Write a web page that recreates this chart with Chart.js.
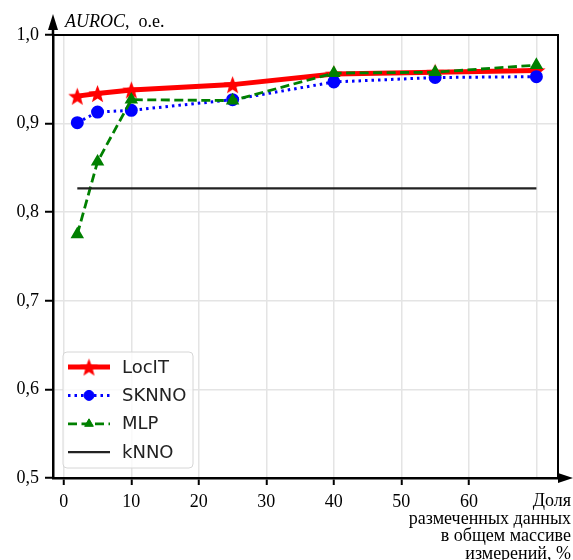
<!DOCTYPE html>
<html>
<head>
<meta charset="utf-8">
<script src="https://cdn.jsdelivr.net/npm/chart.js@4.4.1/dist/chart.umd.min.js"></script>
<style>
  html, body { margin: 0; padding: 0; background: #fff; }
</style>
</head>
<body>
<canvas id="grafico" width="573" height="560"></canvas>
<script>
// Доля размеченных данных, %
const xValues = [2, 5, 10, 25, 40, 55, 70];
// AUROC por método
const locit = [0.931, 0.934, 0.938, 0.944, 0.956, 0.958, 0.960];
const sknno = [0.901, 0.913, 0.915, 0.927, 0.947, 0.952, 0.953];
const mlp   = [0.775, 0.857, 0.927, 0.926, 0.957, 0.958, 0.966];
const knno  = [0.827, 0.827, 0.827, 0.827, 0.827, 0.827, 0.827];

// Etiquetas de los ejes
const xTicks = [0, 10, 20, 30, 40, 50, 60, 70];
const xTickLabels = ['0', '10', '20', '30', '40', '50', '60', ''];
const yTicks = [0.5, 0.6, 0.7, 0.8, 0.9, 1.0];
const yTickLabels = ['0,5', '0,6', '0,7', '0,8', '0,9', '1,0'];
const xTitle = ['Доля', 'размеченных данных', 'в общем массиве', 'измерений, %'];

const serif = 'Liberation Serif';

// Estrella rellena de 5 puntas para usar como pointStyle
function estrella(color, rOut, rIn) {
    const size = Math.ceil(rOut * 2) + 2;
    const c = document.createElement('canvas');
    c.width = size;
    c.height = size;
    const g = c.getContext('2d');
    g.beginPath();
    for (let i = 0; i < 10; i++) {
        const r = i % 2 === 0 ? rOut : rIn;
        const a = -Math.PI / 2 + i * Math.PI / 5;
        const px = size / 2 + r * Math.cos(a);
        const py = size / 2 + r * Math.sin(a) + 1;
        if (i === 0) g.moveTo(px, py); else g.lineTo(px, py);
    }
    g.closePath();
    g.fillStyle = color;
    g.fill();
    return c;
}

const starRed = estrella('#ff0000', 9.5, 4);

function puntos(vals) {
    return xValues.map((x, i) => ({ x: x, y: vals[i] }));
}

// Leyenda y marco dibujados a mano (dentro del área del gráfico)
const marco = {
    id: 'marco',
    afterDraw(chart) {
        const { ctx, chartArea: a } = chart;
        ctx.save();

        // marco superior y derecho
        ctx.strokeStyle = '#000';
        ctx.lineWidth = 2;
        ctx.setLineDash([]);
        ctx.beginPath();
        ctx.moveTo(a.left, a.top);
        ctx.lineTo(a.right, a.top);
        ctx.lineTo(a.right, a.bottom);
        ctx.stroke();

        // prolongación de los ejes con flechas
        ctx.lineWidth = 2.5;
        ctx.beginPath();
        ctx.moveTo(a.left, a.top);
        ctx.lineTo(a.left, 26);
        ctx.moveTo(a.right, a.bottom);
        ctx.lineTo(562, a.bottom);
        ctx.stroke();
        ctx.fillStyle = '#000';
        ctx.beginPath();
        ctx.moveTo(a.left, 14);
        ctx.lineTo(a.left - 5, 30);
        ctx.lineTo(a.left + 5, 30);
        ctx.closePath();
        ctx.fill();
        ctx.beginPath();
        ctx.moveTo(573, a.bottom);
        ctx.lineTo(558, a.bottom - 5);
        ctx.lineTo(558, a.bottom + 5);
        ctx.closePath();
        ctx.fill();

        // título del eje Y
        ctx.textBaseline = 'alphabetic';
        ctx.textAlign = 'left';
        ctx.font = 'italic 18px "' + serif + '"';
        ctx.fillText('AUROC', 65, 27);
        const w = ctx.measureText('AUROC').width;
        ctx.font = '18px "' + serif + '"';
        ctx.fillText(',  о.е.', 65 + w, 27);

        // título del eje X
        ctx.textAlign = 'right';
        xTitle.forEach((t, i) => ctx.fillText(t, 571, 506 + i * 17.6));

        // leyenda
        const lx = 63, ly = 352, lw = 130, lh = 116;
        ctx.beginPath();
        ctx.roundRect(lx, ly, lw, lh, 4);
        ctx.fillStyle = 'rgba(255,255,255,0.8)';
        ctx.fill();
        ctx.strokeStyle = '#d6d6d6';
        ctx.lineWidth = 1;
        ctx.stroke();

        ctx.font = '18px "DejaVu Sans"';
        ctx.textAlign = 'left';
        ctx.textBaseline = 'middle';
        chart.data.datasets.forEach((ds, i) => {
            const y = 367 + i * 28.4;
            ctx.strokeStyle = ds.borderColor;
            ctx.lineWidth = ds.borderWidth;
            ctx.setLineDash(ds.borderDash || []);
            ctx.beginPath();
            ctx.moveTo(68, y);
            ctx.lineTo(110, y);
            ctx.stroke();
            ctx.setLineDash([]);
            if (ds.pointRadius > 0) {
                ctx.fillStyle = ds.pointBackgroundColor;
                ctx.strokeStyle = ds.pointBorderColor;
                ctx.lineWidth = 1;
                Chart.helpers.drawPoint(ctx, {
                    pointStyle: ds.pointStyle,
                    radius: ds.pointRadius,
                    rotation: 0,
                    borderWidth: 1
                }, 89, y);
            }
            ctx.fillStyle = '#222';
            ctx.fillText(ds.label, 122, y + 1);
        });

        ctx.restore();
    }
};

const config = {
    type: 'line',
    data: {
        datasets: [{
            label: 'LocIT',
            data: puntos(locit),
            borderColor: '#ff0000',
            borderWidth: 5,
            pointStyle: starRed,
            pointRadius: 9,
            pointBackgroundColor: '#ff0000',
            pointBorderColor: '#ff0000',
            order: 4
        }, {
            label: 'SKNNO',
            data: puntos(sknno),
            borderColor: '#0000ff',
            borderWidth: 3,
            borderDash: [2.5, 4],
            pointStyle: 'circle',
            pointRadius: 5,
            pointBackgroundColor: '#0000ff',
            pointBorderColor: '#0000ff',
            order: 3
        }, {
            label: 'MLP',
            data: puntos(mlp),
            borderColor: '#008000',
            borderWidth: 2.8,
            borderDash: [9, 4.5],
            pointStyle: 'triangle',
            pointRadius: 5,
            pointBackgroundColor: '#008000',
            pointBorderColor: '#008000',
            order: 2
        }, {
            label: 'kNNO',
            data: puntos(knno),
            borderColor: '#222222',
            borderWidth: 2.2,
            pointRadius: 0,
            order: 1
        }]
    },
    options: {
        responsive: false,
        animation: false,
        events: [],
        layout: { padding: { left: 0, top: 35, right: 15, bottom: 0 } },
        plugins: {
            legend: { display: false },
            tooltip: { enabled: false }
        },
        scales: {
            x: {
                type: 'linear',
                min: -1.6,
                max: 73.2,
                afterBuildTicks: s => { s.ticks = xTicks.map(v => ({ value: v })); },
                afterFit: s => { s.height = 82; },
                grid: {
                    color: '#e4e4e4',
                    lineWidth: 1.5,
                    tickLength: 7,
                    tickWidth: 2,
                    tickColor: ctx => (ctx.tick && ctx.tick.value === 70) ? 'rgba(0,0,0,0)' : '#000'
                },
                border: { display: true, color: '#000', width: 2.5 },
                ticks: {
                    autoSkip: false,
                    maxRotation: 0,
                    padding: 6,
                    color: '#000',
                    font: { family: serif, size: 18 },
                    callback: (v, i) => xTickLabels[i]
                }
            },
            y: {
                min: 0.5,
                max: 1.0,
                afterBuildTicks: s => { s.ticks = yTicks.map(v => ({ value: v })); },
                afterFit: s => { s.width = 53; },
                grid: {
                    color: '#e4e4e4',
                    lineWidth: 1.5,
                    tickLength: 8,
                    tickWidth: 2,
                    tickColor: '#000'
                },
                border: { display: true, color: '#000', width: 2.5 },
                ticks: {
                    padding: 6,
                    color: '#000',
                    font: { family: serif, size: 18 },
                    callback: (v, i) => yTickLabels[i]
                }
            }
        }
    },
    plugins: [marco]
};

new Chart(document.getElementById('grafico').getContext('2d'), config);
</script>
</body>
</html>
